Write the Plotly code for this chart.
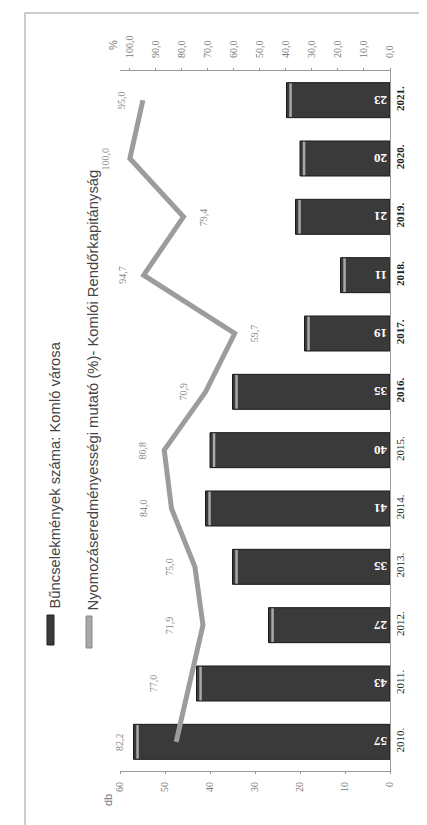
import plotly.graph_objects as go

years = ["2010", "2011", "2012", "2013", "2014", "2015", "2016", "2017", "2018", "2019", "2020", "2021"]
crimes = [57, 43, 27, 35, 41, 40, 35, 19, 11, 21, 20, 23]
rate = [82.2, 77.0, 71.9, 75.0, 84.0, 86.8, 70.9, 59.7, 94.7, 79.4, 100.0, 95.0]
bold_years = ["2016", "2017", "2018", "2019", "2020", "2021"]
db_ticks = [0, 10, 20, 30, 40, 50, 60]
pct_ticks = [0, 10, 20, 30, 40, 50, 60, 70, 80, 90, 100]
name_bar = "Bűncselekmények száma: Komló városa"
name_line = "Nyomozáseredményességi mutató (%)- Komlói Rendőrkapitányság"

# style: horizontal pixel offset of each rate label from its point
label_dx = [-56, -36, -34, -25, -28, -22, -22, 20, -21, 20, -24, -22]
HIGHLIGHT_INSET = 0.9  # style: db units inset of the light strip from bar tip

W, H = 427, 825
L, R, T, B = 112, 45, 63, 62
pw, ph = W - L - R, H - T - B

def px(x):
    return (x - L) / pw

def py(y):
    return (H - B - y) / ph

year_text = [("<b>%s.</b>" % y) if y in bold_years else ("%s." % y) for y in years]

fig = go.Figure()
fig.add_trace(go.Bar(
    y=years, x=crimes, orientation="h",
    marker=dict(color="#3a3a3a", line=dict(color="#1a1a1a", width=1)),
    text=[str(c) for c in crimes], textposition="inside", insidetextanchor="start",
    textangle=180,
    textfont=dict(family="Liberation Serif", size=13, color="white", weight="bold"),
    showlegend=False, xaxis="x", yaxis="y",
))
# light highlight strip near each bar tip
fig.add_trace(go.Scatter(
    y=years, x=[c - HIGHLIGHT_INSET for c in crimes], mode="markers",
    marker=dict(symbol="line-ns", size=24, line=dict(color="#a9a9a9", width=2.5)),
    showlegend=False, hoverinfo="skip", xaxis="x", yaxis="y",
))
fig.add_trace(go.Scatter(
    y=years, x=rate, mode="lines",
    line=dict(color="#9c9c9c", width=5),
    showlegend=False, xaxis="x2", yaxis="y",
))

annotations = []
for i, (v, dx) in enumerate(zip(rate, label_dx)):
    annotations.append(dict(
        x=v, y=i, xref="x2", yref="y", xshift=dx, showarrow=False,
        text=("%.1f" % v).replace(".", ","), textangle=-90,
        font=dict(family="Liberation Serif", size=10, color="#8a8a8a"),
    ))

# axis titles
annotations.append(dict(x=px(92), y=py(800), xref="paper", yref="paper", text="db",
                        showarrow=False, textangle=-90,
                        font=dict(family="Liberation Sans", size=11, color="#777")))
annotations.append(dict(x=px(97), y=py(30), xref="paper", yref="paper", text="%",
                        showarrow=False, textangle=-90,
                        font=dict(family="Liberation Sans", size=11, color="#777")))
# legend texts
annotations.append(dict(x=px(46), y=py(603), xref="paper", yref="paper", text=name_bar,
                        showarrow=False, textangle=-90, xanchor="center", yanchor="bottom",
                        font=dict(family="Liberation Sans", size=14.8, color="#444")))
annotations.append(dict(x=px(84), y=py(605), xref="paper", yref="paper", text=name_line,
                        showarrow=False, textangle=-90, xanchor="center", yanchor="bottom",
                        font=dict(family="Liberation Sans", size=14.8, color="#444")))

shapes = [
    # frame
    dict(type="rect", xref="paper", yref="paper", x0=px(17), x1=px(425), y0=py(822), y1=py(5),
         line=dict(color="#bdbdbd", width=1.5)),
    # legend swatches
    dict(type="rect", xref="paper", yref="paper", x0=px(39), x1=px(46), y0=py(637), y1=py(607),
         fillcolor="#3a3a3a", line=dict(color="#222", width=1)),
    dict(type="rect", xref="paper", yref="paper", x0=px(78), x1=px(84), y0=py(640), y1=py(608),
         fillcolor="#a8a8a8", line=dict(color="#888", width=1)),
]

fig.update_layout(
    width=W, height=H,
    margin=dict(l=L, r=R, t=T, b=B),
    paper_bgcolor="white", plot_bgcolor="white",
    bargap=0.4,
    separators=",.",
    annotations=annotations, shapes=shapes,
    xaxis=dict(range=[60, 0], tickvals=db_ticks, tickangle=-90, showgrid=False, zeroline=False,
               showline=True, linecolor="#999", ticks="outside", ticklen=2, tickcolor="#999",
               ticklabelstandoff=4,
               tickfont=dict(family="Liberation Serif", size=10, color="#777")),
    xaxis2=dict(range=[103.8, 0], overlaying="x", side="top", tickvals=pct_ticks,
                tickformat=".1f", tickangle=-90, showgrid=False, zeroline=False,
                showline=True, linecolor="#999", ticks="outside", ticklen=2, tickcolor="#999",
                ticklabelstandoff=8,
                tickfont=dict(family="Liberation Serif", size=10, color="#777")),
    yaxis=dict(type="category", range=[-0.5, 11.5], side="right", tickvals=years,
               ticktext=year_text, tickangle=-90, showgrid=False, zeroline=False,
               showline=True, linecolor="#999", ticks="",
               tickfont=dict(family="Liberation Serif", size=11, color="#222")),
)

fig.write_html("out.html")
